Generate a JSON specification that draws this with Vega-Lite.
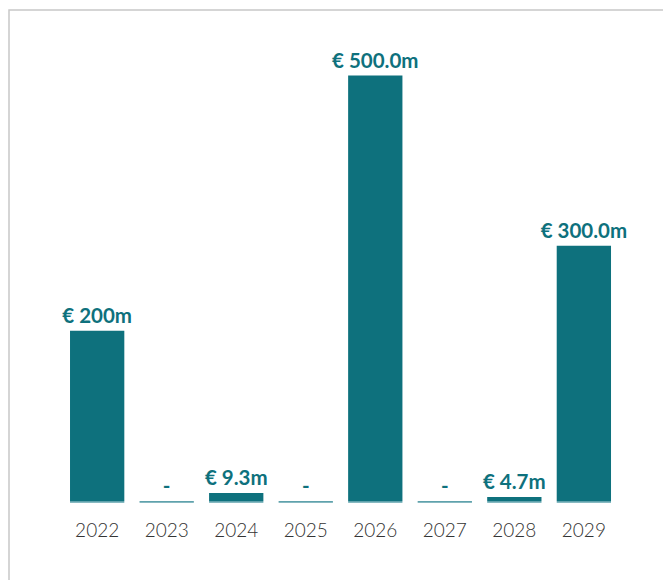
{
  "$schema": "https://vega.github.io/schema/vega-lite/v6.json",
  "autosize": {"type": "none"},
  "padding": {"left": 9, "top": 10, "right": -16, "bottom": -30},
  "width": 670,
  "height": 600,
  "background": "white",
  "config": {
    "view": {"stroke": "#c8c8c8", "strokeWidth": 1.5},
    "font": "Lato"
  },
  "data": {
    "values": [
      {"year": "2022", "value": 200, "label": "€ 200m"},
      {"year": "2023", "value": 0, "label": "-"},
      {"year": "2024", "value": 9.3, "label": "€ 9.3m"},
      {"year": "2025", "value": 0, "label": "-"},
      {"year": "2026", "value": 500, "label": "€ 500.0m"},
      {"year": "2027", "value": 0, "label": "-"},
      {"year": "2028", "value": 4.7, "label": "€ 4.7m"},
      {"year": "2029", "value": 300, "label": "€ 300.0m"}
    ]
  },
  "encoding": {
    "x": {
      "field": "year",
      "type": "nominal",
      "sort": null,
      "scale": {"paddingInner": 0.219, "paddingOuter": 0.9277, "align": 0.473},
      "axis": {
        "title": null,
        "labelAngle": 0,
        "ticks": false,
        "domain": false,
        "offset": -89,
        "labelPadding": 0,
        "labelFontSize": 19,
        "labelFontWeight": 300,
        "labelColor": "#333333",
        "labelFont": "Lato"
      }
    }
  },
  "layer": [
    {
      "mark": {"type": "bar", "color": "#5fa2ac"},
      "encoding": {
        "y": {"datum": 0, "type": "quantitative", "scale": {"domain": [-128.1, 577], "nice": false, "zero": false}, "axis": null},
        "y2": {"datum": -2.2}
      }
    },
    {
      "mark": {"type": "bar", "color": "#0e717d"},
      "encoding": {
        "y": {"field": "value", "type": "quantitative", "scale": {"domain": [-128.1, 577], "nice": false, "zero": false}, "axis": null},
        "y2": {"datum": 0}
      }
    },
    {
      "mark": {"type": "text", "color": "#0e717d", "fontWeight": "bold", "fontSize": 20.5, "baseline": "alphabetic", "dy": -8, "font": "Lato"},
      "encoding": {
        "y": {"field": "value", "type": "quantitative"},
        "text": {"field": "label"}
      }
    }
  ]
}
